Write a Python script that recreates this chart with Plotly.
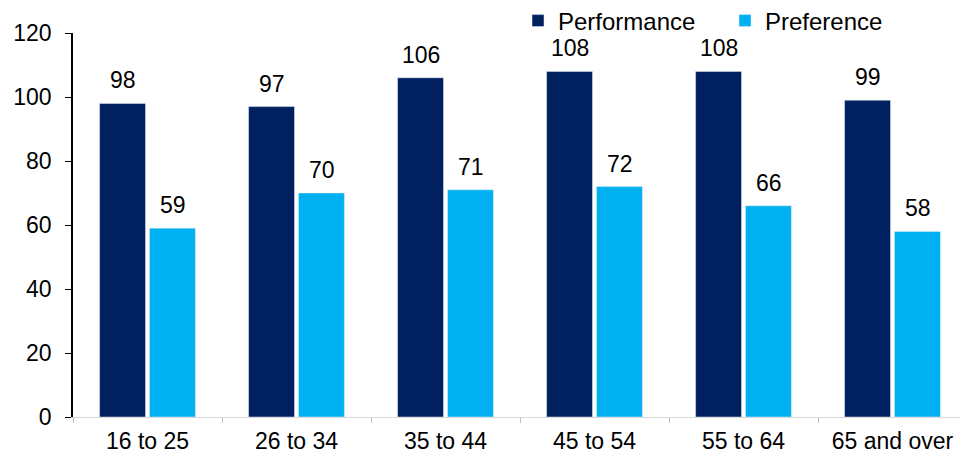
import plotly.graph_objects as go

categories = ["16 to 25", "26 to 34", "35 to 44", "45 to 54", "55 to 64", "65 and over"]
performance = [98, 97, 106, 108, 108, 99]
preference = [59, 70, 71, 72, 66, 58]
y_ticks = [0, 20, 40, 60, 80, 100, 120]

DARK = "#002060"
LIGHT = "#00B0F0"
FONT = dict(family="Liberation Sans, Arial, sans-serif", size=23, color="#000000")
LEGEND_FONT = dict(family="Liberation Sans, Arial, sans-serif", size=24, color="#000000")

# page has an 8px body margin: figure origin sits at (8, 8) in the window
W, H = 960, 451
ML, MR, MT, MB = 65, 1, 25, 42

fig = go.Figure()
fig.add_trace(go.Bar(x=categories, y=performance, name="Performance", marker_color=DARK))
fig.add_trace(go.Bar(x=categories, y=preference, name="Preference", marker_color=LIGHT))

annotations = []
for i, c in enumerate(categories):
    for vals, off in ((performance, -0.5), (preference, 0.5)):
        annotations.append(dict(
            x=i, y=vals[i], xref="x", yref="y", text=str(vals[i]),
            showarrow=False, yanchor="bottom", yshift=8, xshift=off * 50,
            font=FONT,
        ))

plot_w = W - ML - MR
fig.update_layout(
    width=W, height=H,
    margin=dict(l=ML, r=MR, t=MT, b=MB, autoexpand=False),
    paper_bgcolor="white", plot_bgcolor="white",
    barmode="group", bargap=0.33, bargroupgap=0.08,
    font=FONT,
    showlegend=True,
    legend=dict(orientation="h", x=(510 - ML) / plot_w, y=1 - 13 / H,
                xref="paper", yref="container",
                xanchor="left", yanchor="middle",
                font=LEGEND_FONT, itemwidth=30, entrywidth=162,
                bgcolor="rgba(0,0,0,0)"),
    annotations=annotations,
    xaxis=dict(
        type="category", showline=True, linecolor="#D9D9D9", linewidth=1,
        ticks="outside", tickson="boundaries", tickcolor="#BFBFBF", ticklen=5,
        showgrid=False, tickfont=FONT, range=[-0.5, 5.5], ticklabelstandoff=3,
    ),
    yaxis=dict(
        range=[0, 120], tickvals=y_ticks, showline=True, linecolor="#000000",
        linewidth=1.5, ticks="outside", tickcolor="#000000", ticklen=6,
        showgrid=False, zeroline=False, tickfont=FONT, ticklabelstandoff=9,
    ),
)

fig.write_html("out.html")
